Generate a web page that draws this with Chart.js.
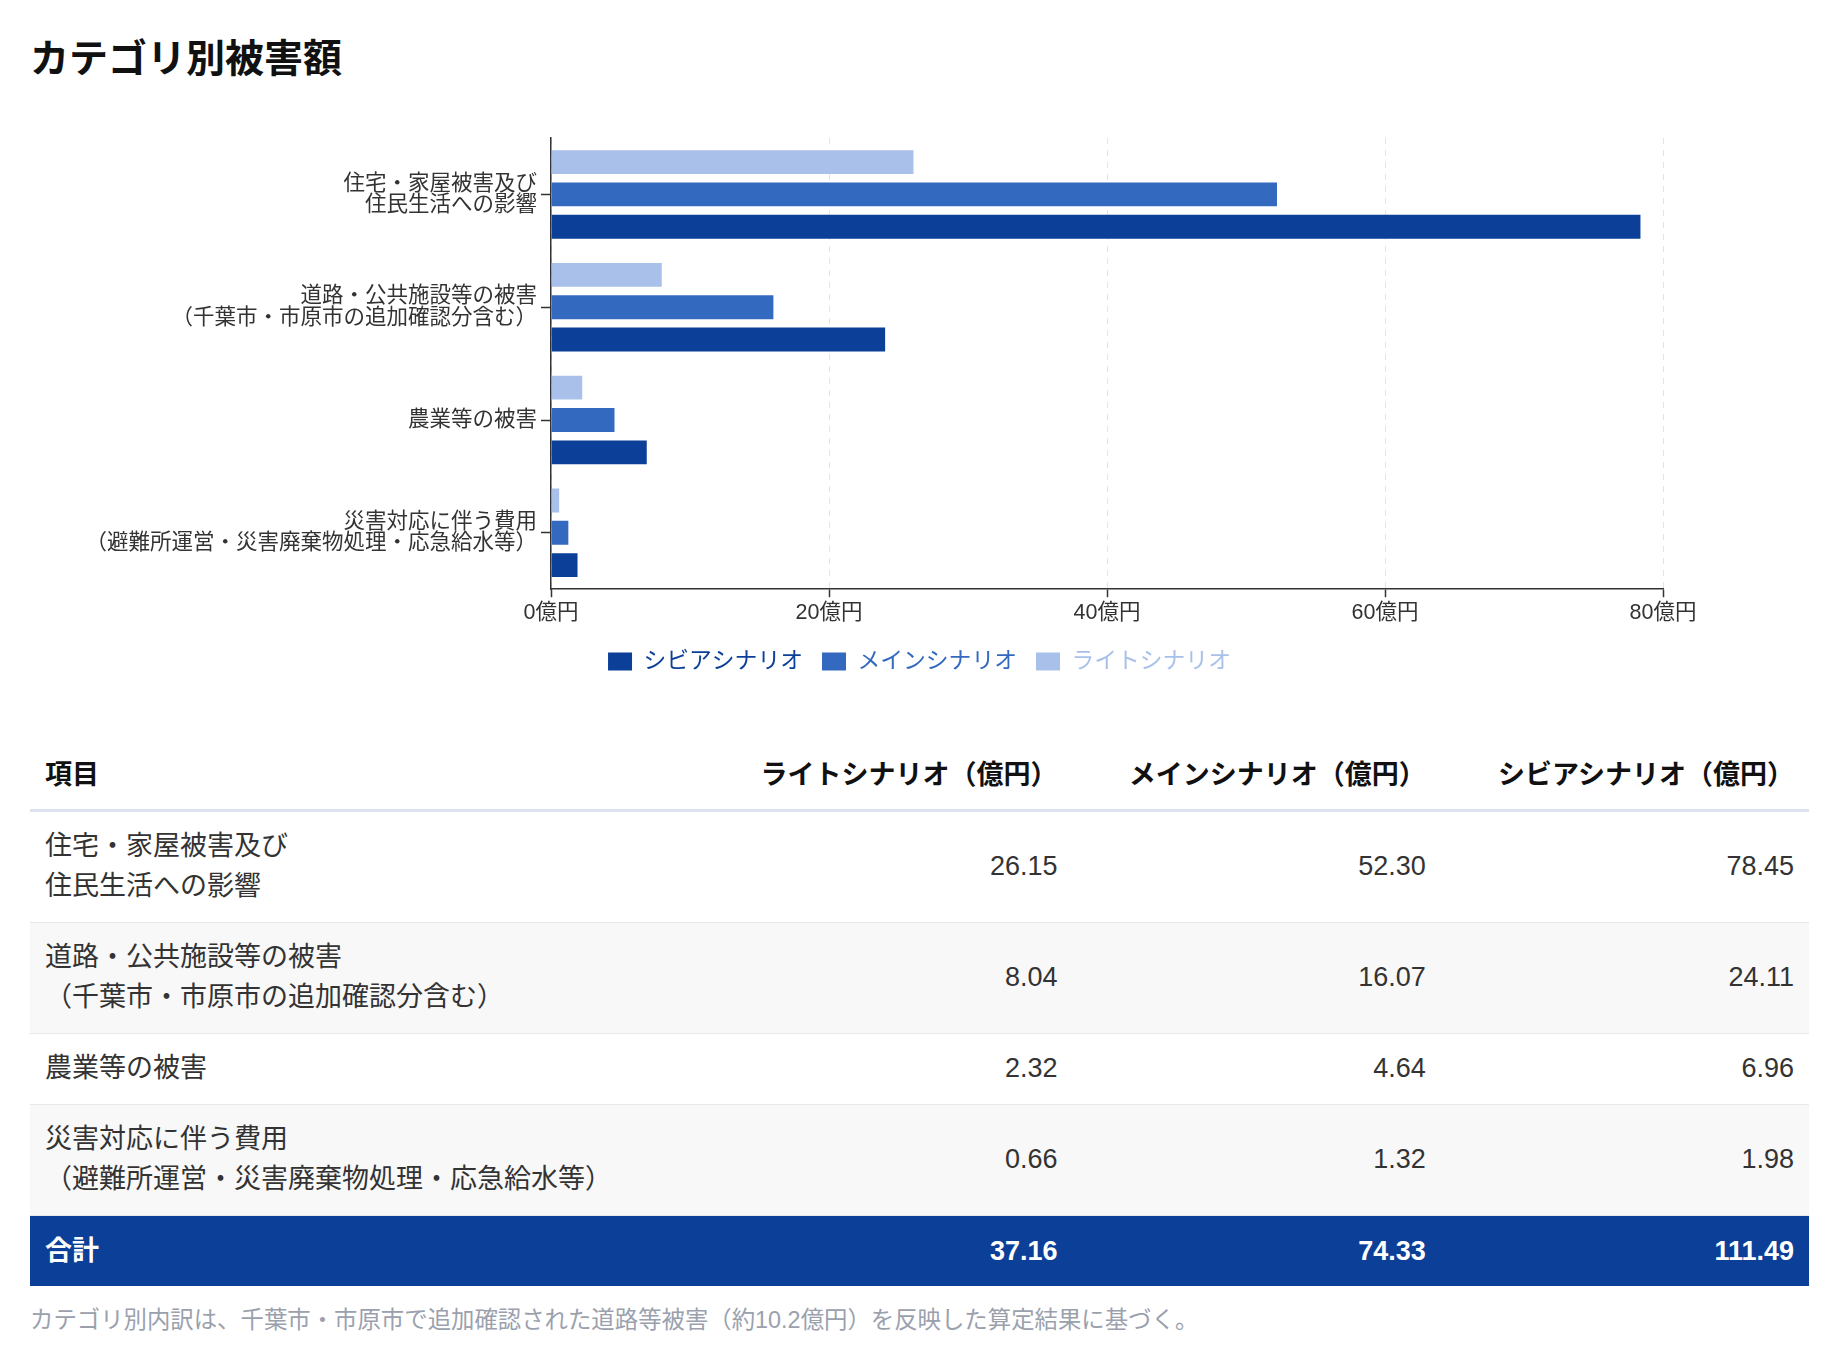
<!DOCTYPE html>
<html lang="ja">
<head>
<meta charset="utf-8">
<title>カテゴリ別被害額</title>
<script src="https://cdn.jsdelivr.net/npm/chart.js@4.4.1/dist/chart.umd.min.js"></script>
<style>
  html, body { margin: 0; padding: 0; background: #fff; }
  body {
    padding: 0 37px 0 30px;
    font-family: "Liberation Sans", "Noto Sans CJK JP", sans-serif;
    color: #222;
  }
  h1 {
    margin: 0;
    padding-top: 35px;
    font-size: 39px;
    line-height: 48px;
    font-weight: 700;
    color: #111;
  }
  .chart-wrap { position: relative; height: 590px; margin-top: 37px; }
  table {
    width: 100%;
    margin-top: 28px;
    border-collapse: collapse;
    table-layout: fixed;
    font-size: 27px;
  }
  th, td { padding: 14px 15px 16px; line-height: 40px; }
  th {
    padding-top: 17px;
    padding-bottom: 14px;
    font-size: 27px;
    font-weight: 700;
    color: #111;
    text-align: right;
    border-bottom: 3px solid #dde3ee;
  }
  th:first-child, td:first-child { text-align: left; }
  td { text-align: right; border-bottom: 1px solid #e6e8ec; color: #333; }
  tbody tr:nth-child(even) td { background: #f8f8f8; }
  tr.total td {
    background: #0b3f98;
    color: #fff;
    font-weight: 700;
    border-bottom: none;
    padding-top: 15px;
    padding-bottom: 15px;
  }
  .note {
    margin-top: 16px;
    font-size: 23.4px;
    line-height: 36px;
    color: #9aa1ad;
  }
</style>
</head>
<body>
<h1>カテゴリ別被害額</h1>
<div class="chart-wrap"><canvas id="damageChart"></canvas></div>
<table id="damageTable">
  <colgroup>
    <col style="width:37.9%"><col style="width:20.7%"><col style="width:20.7%"><col style="width:20.7%">
  </colgroup>
  <thead><tr id="headRow"></tr></thead>
  <tbody id="tableBody"></tbody>
</table>
<div class="note">カテゴリ別内訳は、千葉市・市原市で追加確認された道路等被害（約10.2億円）を反映した算定結果に基づく。</div>

<script>
// categories (two-line labels as shown on the axis)
const categories = [
    ['住宅・家屋被害及び', '住民生活への影響'],
    ['道路・公共施設等の被害', '（千葉市・市原市の追加確認分含む）'],
    ['農業等の被害'],
    ['災害対応に伴う費用', '（避難所運営・災害廃棄物処理・応急給水等）']
];

// values in 億円
const lightValues = [26.15, 8.04, 2.32, 0.66];
const mainValues = [52.30, 16.07, 4.64, 1.32];
const severeValues = [78.45, 24.11, 6.96, 1.98];
const totals = [37.16, 74.33, 111.49];

const seriesNames = ['ライトシナリオ', 'メインシナリオ', 'シビアシナリオ'];
const seriesColors = ['#a9c1ea', '#3469c0', '#0b3f98'];
const xTicks = [0, 20, 40, 60, 80];

const fontFamily = '"Liberation Sans", "Noto Sans CJK JP", sans-serif';
const rightPad = 146;

function buildTable() {
    const head = document.getElementById('headRow');
    const headers = ['項目'].concat(seriesNames.map(n => n + '（億円）'));
    headers.forEach(h => {
        const th = document.createElement('th');
        th.textContent = h;
        head.appendChild(th);
    });

    const body = document.getElementById('tableBody');
    categories.forEach((cat, i) => {
        const tr = document.createElement('tr');
        const label = document.createElement('td');
        label.innerHTML = cat.join('<br>');
        tr.appendChild(label);
        [lightValues, mainValues, severeValues].forEach(arr => {
            const td = document.createElement('td');
            td.textContent = arr[i].toFixed(2);
            tr.appendChild(td);
        });
        body.appendChild(tr);
    });

    const totalRow = document.createElement('tr');
    totalRow.className = 'total';
    const tLabel = document.createElement('td');
    tLabel.textContent = '合計';
    totalRow.appendChild(tLabel);
    totals.forEach(v => {
        const td = document.createElement('td');
        td.textContent = v.toFixed(2);
        totalRow.appendChild(td);
    });
    body.appendChild(totalRow);
}

// keep the legend centred on the whole canvas, not on the padded area
const centerLegend = {
    id: 'centerLegend',
    afterLayout(chart) {
        const l = chart.legend;
        if (!l) return;
        l.left += rightPad / 2;
        l.right += rightPad / 2;
    }
};

function renderChart() {
    const ctx = document.getElementById('damageChart').getContext('2d');
    const valueSets = [lightValues, mainValues, severeValues];

    new Chart(ctx, {
        type: 'bar',
        data: {
            labels: categories,
            datasets: seriesNames.map((name, i) => ({
                label: name,
                data: valueSets[i],
                backgroundColor: seriesColors[i],
                borderColor: 'rgba(255, 255, 255, 0.2)',
                borderWidth: 1,
                categoryPercentage: 0.86,
                barPercentage: 0.8
            }))
        },
        options: {
            indexAxis: 'y',
            responsive: true,
            maintainAspectRatio: false,
            animation: false,
            layout: { padding: { top: 18, right: rightPad, bottom: 27, left: 0 } },
            scales: {
                x: {
                    min: 0,
                    max: 80,
                    afterBuildTicks: scale => {
                        scale.ticks = xTicks.map(v => ({ value: v }));
                    },
                    afterFit: scale => { scale.height = 42; },
                    ticks: {
                        callback: v => v + '億円',
                        color: '#333',
                        font: { family: fontFamily, size: 21.5 },
                        padding: 3
                    },
                    grid: {
                        color: '#e1e4ec',
                        tickColor: '#333',
                        tickLength: 8,
                        tickWidth: 1.5
                    },
                    border: { display: true, color: '#333', width: 1.5, dash: [6, 6] }
                },
                y: {
                    afterFit: scale => {
                        scale.width = 521;
                        scale.paddingTop = 0;
                        scale.paddingBottom = 0;
                    },
                    ticks: {
                        color: '#333',
                        font: { family: fontFamily, size: 21.5, lineHeight: 1.0 },
                        padding: 4
                    },
                    grid: {
                        offset: false,
                        drawOnChartArea: false,
                        tickColor: '#333',
                        tickLength: 10,
                        tickWidth: 1.5
                    },
                    border: { display: true, color: '#333', width: 1.5 }
                }
            },
            plugins: {
                legend: {
                    position: 'bottom',
                    reverse: true,
                    labels: {
                        boxWidth: 24,
                        boxHeight: 18,
                        padding: 19,
                        font: { family: fontFamily, size: 22.8 },
                        generateLabels: chart => {
                            const items = Chart.defaults.plugins.legend.labels.generateLabels(chart);
                            items.forEach(item => {
                                item.fontColor = seriesColors[item.datasetIndex];
                                item.lineWidth = 0;
                            });
                            return items;
                        }
                    }
                },
                tooltip: { enabled: false }
            }
        },
        plugins: [centerLegend]
    });
}

buildTable();
renderChart();
</script>
</body>
</html>
